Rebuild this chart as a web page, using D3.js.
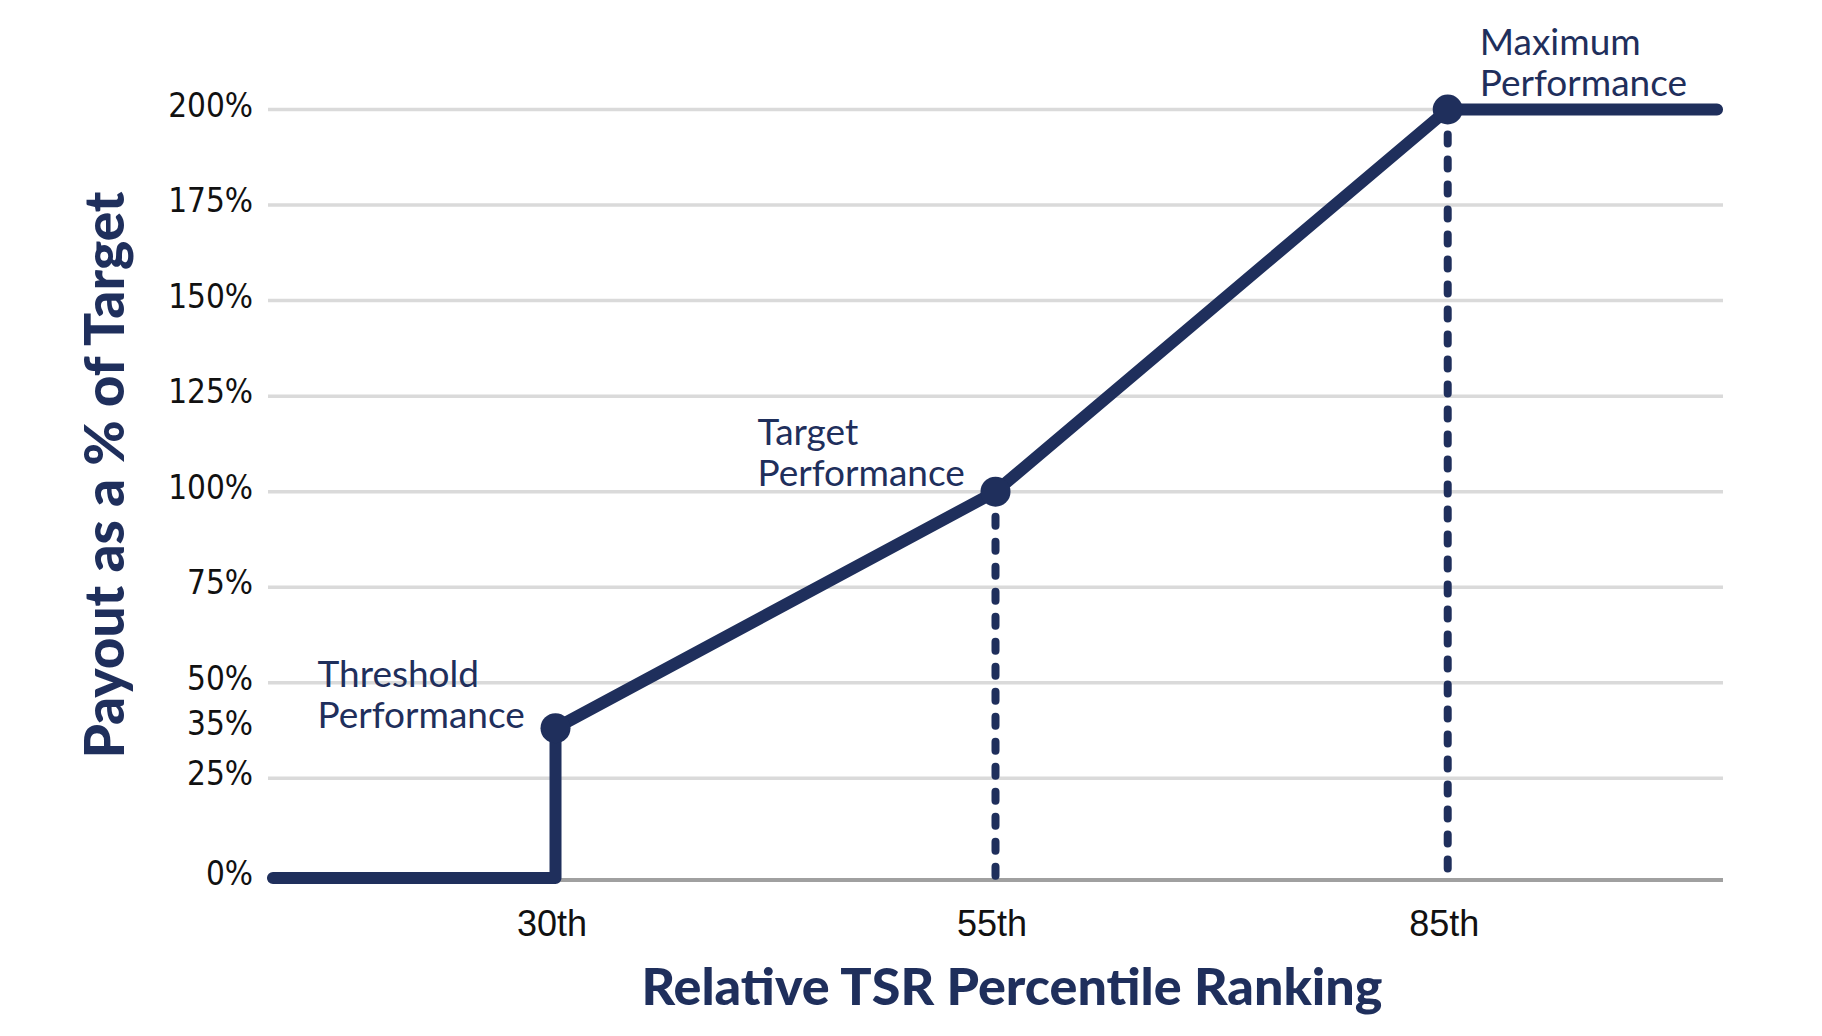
<!DOCTYPE html>
<html>
<head>
<meta charset="utf-8">
<script src="https://cdn.jsdelivr.net/npm/d3@7"></script>
<style>
  body { margin: 0; background: #fff; }
</style>
</head>
<body>
<div id="chart"></div>
<script>
// payout curve vertices: relative TSR percentile -> payout as % of target
const rankPts   = [0, 30, 30, 55, 85, 100];
const payoutPts = [0, 0, 35, 100, 200, 200];

// performance levels marked with a dot
const levelRank   = [30, 55, 85];
const levelPayout = [35, 100, 200];
const levelName   = [["Threshold", "Performance"], ["Target", "Performance"], ["Maximum", "Performance"]];

// axes
const xTicks      = [30, 55, 85];
const xTickLabels = ["30th", "55th", "85th"];
const yTicks      = [0, 25, 35, 50, 75, 100, 125, 150, 175, 200];
const yGridVals   = [25, 50, 75, 100, 125, 150, 175, 200];

const xTitle = "Relative TSR Percentile Ranking";
const yTitle = "Payout as a % of Target";

const width = 1822, height = 1036;
const navy = "#1f2f5c";

const margin = {top: 109.5, right: 99, bottom: 158, left: 268};
const w = width - margin.left - margin.right;
const h = height - margin.top - margin.bottom;

const svg = d3.select("#chart").append("svg")
    .attr("width", width)
    .attr("height", height)
    .style("background", "#fff");

const g = svg.append("g")
    .attr("transform", `translate(${margin.left},${margin.top})`);

// the x axis is not drawn to scale in the original, so the scale is piecewise
const x = d3.scaleLinear()
    .domain([0, 30, 55, 85, 100])
    .range([0.0034, 0.1976, 0.5, 0.8108, 0.9959].map(f => f * w));

// same for the 35% tick, which sits a bit high
const y = d3.scaleLinear()
    .domain([0, 25, 35, 50, 200])
    .range([0, 0.1297, 0.195, 0.254, 1].map(f => h * (1 - f)));

// gridlines
g.append("g")
  .selectAll("line")
  .data(yGridVals)
  .join("line")
    .attr("x1", 0)
    .attr("x2", w)
    .attr("y1", d => y(d))
    .attr("y2", d => y(d))
    .attr("stroke", "#dadada")
    .attr("stroke-width", 3.5);

// baseline
g.append("line")
    .attr("x1", 0)
    .attr("x2", w)
    .attr("y1", y(0) + 2)
    .attr("y2", y(0) + 2)
    .attr("stroke", "#a0a0a0")
    .attr("stroke-width", 4);

// y tick labels
g.append("g")
    .call(d3.axisLeft(y).tickValues(yTicks).tickFormat(d => d + "%").tickSize(0).tickPadding(15))
    .call(a => a.select(".domain").remove())
    .selectAll("text")
    .attr("dy", "0.2em")
    .attr("fill", "#111")
    .style("font-family", "'Liberation Sans Narrow', 'DejaVu Sans Condensed', sans-serif")
    .style("font-size", "33px");

// x tick labels
g.append("g")
    .attr("transform", `translate(0,${y(0)})`)
    .call(d3.axisBottom(x).tickValues(xTicks).tickFormat((d, i) => xTickLabels[i]).tickSize(0).tickPadding(32))
    .call(a => a.select(".domain").remove())
    .selectAll("text")
    .attr("dx", "-4px")
    .attr("fill", "#111")
    .style("font-family", "'Liberation Sans', Arial, sans-serif")
    .style("font-size", "36px");

// dotted drop lines from target and maximum
g.append("g")
  .selectAll("line")
  .data(levelRank.slice(1).map((r, i) => [r, levelPayout[i + 1]]))
  .join("line")
    .attr("x1", d => x(d[0]))
    .attr("x2", d => x(d[0]))
    .attr("y1", d => y(d[1]))
    .attr("y2", y(0))
    .attr("stroke", navy)
    .attr("stroke-width", 8)
    .attr("stroke-linecap", "round")
    .attr("stroke-dasharray", "9 16");

// payout curve
const line = d3.line()
    .x((d, i) => x(rankPts[i]))
    .y(d => y(d));

g.append("path")
    .datum(payoutPts)
    .attr("d", line)
    .attr("fill", "none")
    .attr("stroke", navy)
    .attr("stroke-width", 12)
    .attr("stroke-linecap", "round")
    .attr("stroke-linejoin", "round");

// level dots
g.append("g")
  .selectAll("circle")
  .data(levelRank)
  .join("circle")
    .attr("cx", d => x(d))
    .attr("cy", (d, i) => y(levelPayout[i]))
    .attr("r", 15)
    .attr("fill", navy);

// level labels
const labelDx = [-238, -238, 32];
const labelDy = [0, -6, -14];

const labels = g.append("g")
  .selectAll("text")
  .data(levelName)
  .join("text")
    .attr("x", (d, i) => x(levelRank[i]) + labelDx[i])
    .attr("y", (d, i) => y(levelPayout[i]) + labelDy[i])
    .attr("fill", navy)
    .style("font-family", "Lato, sans-serif")
    .style("font-size", "37px");

labels.selectAll("tspan")
  .data(d => d)
  .join("tspan")
    .attr("x", function() { return this.parentNode.getAttribute("x"); })
    .attr("dy", (d, i) => i === 0 ? "-41px" : "41px")
    .text(d => d);

// axis titles
svg.append("text")
    .attr("x", 1012)
    .attr("y", 1005)
    .attr("text-anchor", "middle")
    .attr("fill", navy)
    .style("font-family", "Lato, sans-serif")
    .style("font-weight", 900)
    .style("font-size", "52px")
    .text(xTitle);

svg.append("text")
    .attr("transform", "translate(124,475) rotate(-90)")
    .attr("text-anchor", "middle")
    .attr("fill", navy)
    .style("font-family", "Lato, sans-serif")
    .style("font-weight", 900)
    .style("font-size", "55px")
    .text(yTitle);
</script>
</body>
</html>
